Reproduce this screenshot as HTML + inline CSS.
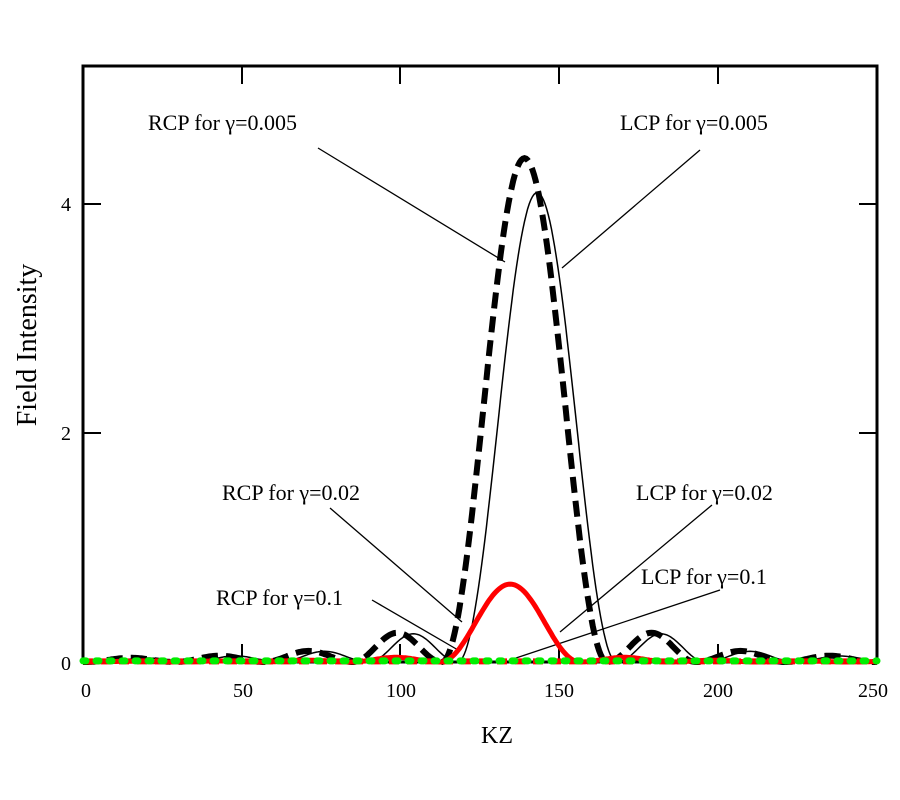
<!DOCTYPE html>
<html><head><meta charset="utf-8"><style>
body{margin:0;background:#fff;}
svg{display:block;font-family:"Liberation Serif",serif;}
</style></head><body>
<svg id="s" width="900" height="800" viewBox="0 0 900 800">
<rect x="83" y="66" width="794" height="596" fill="none" stroke="#000" stroke-width="3"/>
<g stroke="#000" stroke-width="2">
<line x1="83" y1="204" x2="101" y2="204"/><line x1="83" y1="433" x2="101" y2="433"/>
<line x1="877" y1="204" x2="859" y2="204"/><line x1="877" y1="433" x2="859" y2="433"/>
<line x1="242" y1="66" x2="242" y2="84"/><line x1="400" y1="66" x2="400" y2="84"/><line x1="559" y1="66" x2="559" y2="84"/><line x1="718" y1="66" x2="718" y2="84"/>
<line x1="242" y1="662" x2="242" y2="644"/><line x1="400" y1="662" x2="400" y2="644"/><line x1="559" y1="662" x2="559" y2="644"/><line x1="718" y1="662" x2="718" y2="644"/>
</g>
<g font-size="20" text-anchor="middle">
<text x="66" y="211">4</text><text x="66" y="440">2</text><text x="66" y="670">0</text>
<text x="86" y="697">0</text><text x="243" y="697">50</text><text x="401" y="697">100</text><text x="559" y="697">150</text><text x="718" y="697">200</text><text x="873" y="697">250</text>
</g>
<text x="497" y="743" font-size="24" text-anchor="middle">KZ</text>
<text transform="translate(36,345) rotate(-90)" font-size="28" text-anchor="middle">Field Intensity</text>
<g font-size="22">
<text x="148" y="130">RCP for γ=0.005</text>
<text x="620" y="130">LCP for γ=0.005</text>
<text x="222" y="500">RCP for γ=0.02</text>
<text x="636" y="500">LCP for γ=0.02</text>
<text x="216" y="605">RCP for γ=0.1</text>
<text x="641" y="584">LCP for γ=0.1</text>
</g>
<g stroke="#000" stroke-width="1.3">
<line x1="318" y1="148" x2="505" y2="262"/>
<line x1="700" y1="150" x2="562" y2="268"/>
<line x1="330" y1="508" x2="462" y2="622"/>
<line x1="712" y1="505" x2="560" y2="632"/>
<line x1="372" y1="600" x2="458" y2="650"/>
<line x1="720" y1="590" x2="510" y2="660"/>
</g>
<g id="curves"></g>
</svg>
<script>
function X(k){return 83+k*3.176}
function Y(v){return 662-v*114.5}
function beam(x,c,hw,A,sl){var d=Math.abs(x-c);if(d<hw){var a=Math.cos(Math.PI*d/(2*hw));return A*a*a}
var e=d-hw,P=28,n=Math.floor(e/P),s=Math.sin(Math.PI*e/P);return A*sl/Math.pow(1+n,1.4)*s*s}
function path(f){var d='';for(var k=0;k<=250;k+=0.5){var v=f(k);d+=(k==0?'M':'L')+X(k).toFixed(1)+' '+Y(v).toFixed(1)}return d}
var g=document.getElementById('curves');
function add(d,st){var p=document.createElementNS('http://www.w3.org/2000/svg','path');p.setAttribute('d',d);p.setAttribute('fill','none');for(var k in st)p.setAttribute(k,st[k]);g.appendChild(p)}
add(path(function(k){return beam(k,143,25,4.1,0.06)}),{stroke:'#000','stroke-width':1.5});
add(path(function(k){return beam(k,139,26,4.4,0.058)}),{stroke:'#000','stroke-width':6,'stroke-dasharray':'16 8'});
add(path(function(k){return beam(k,134.5,22,0.68,0.06)}),{stroke:'#f00','stroke-width':5});
add(path(function(k){return 0.005}),{stroke:'#f00','stroke-width':6,'stroke-dasharray':'10 8'});
add(path(function(k){return 0.01}),{stroke:'#0e0','stroke-width':7,'stroke-dasharray':'3 10','stroke-linecap':'round'});
</script>
</body></html>
